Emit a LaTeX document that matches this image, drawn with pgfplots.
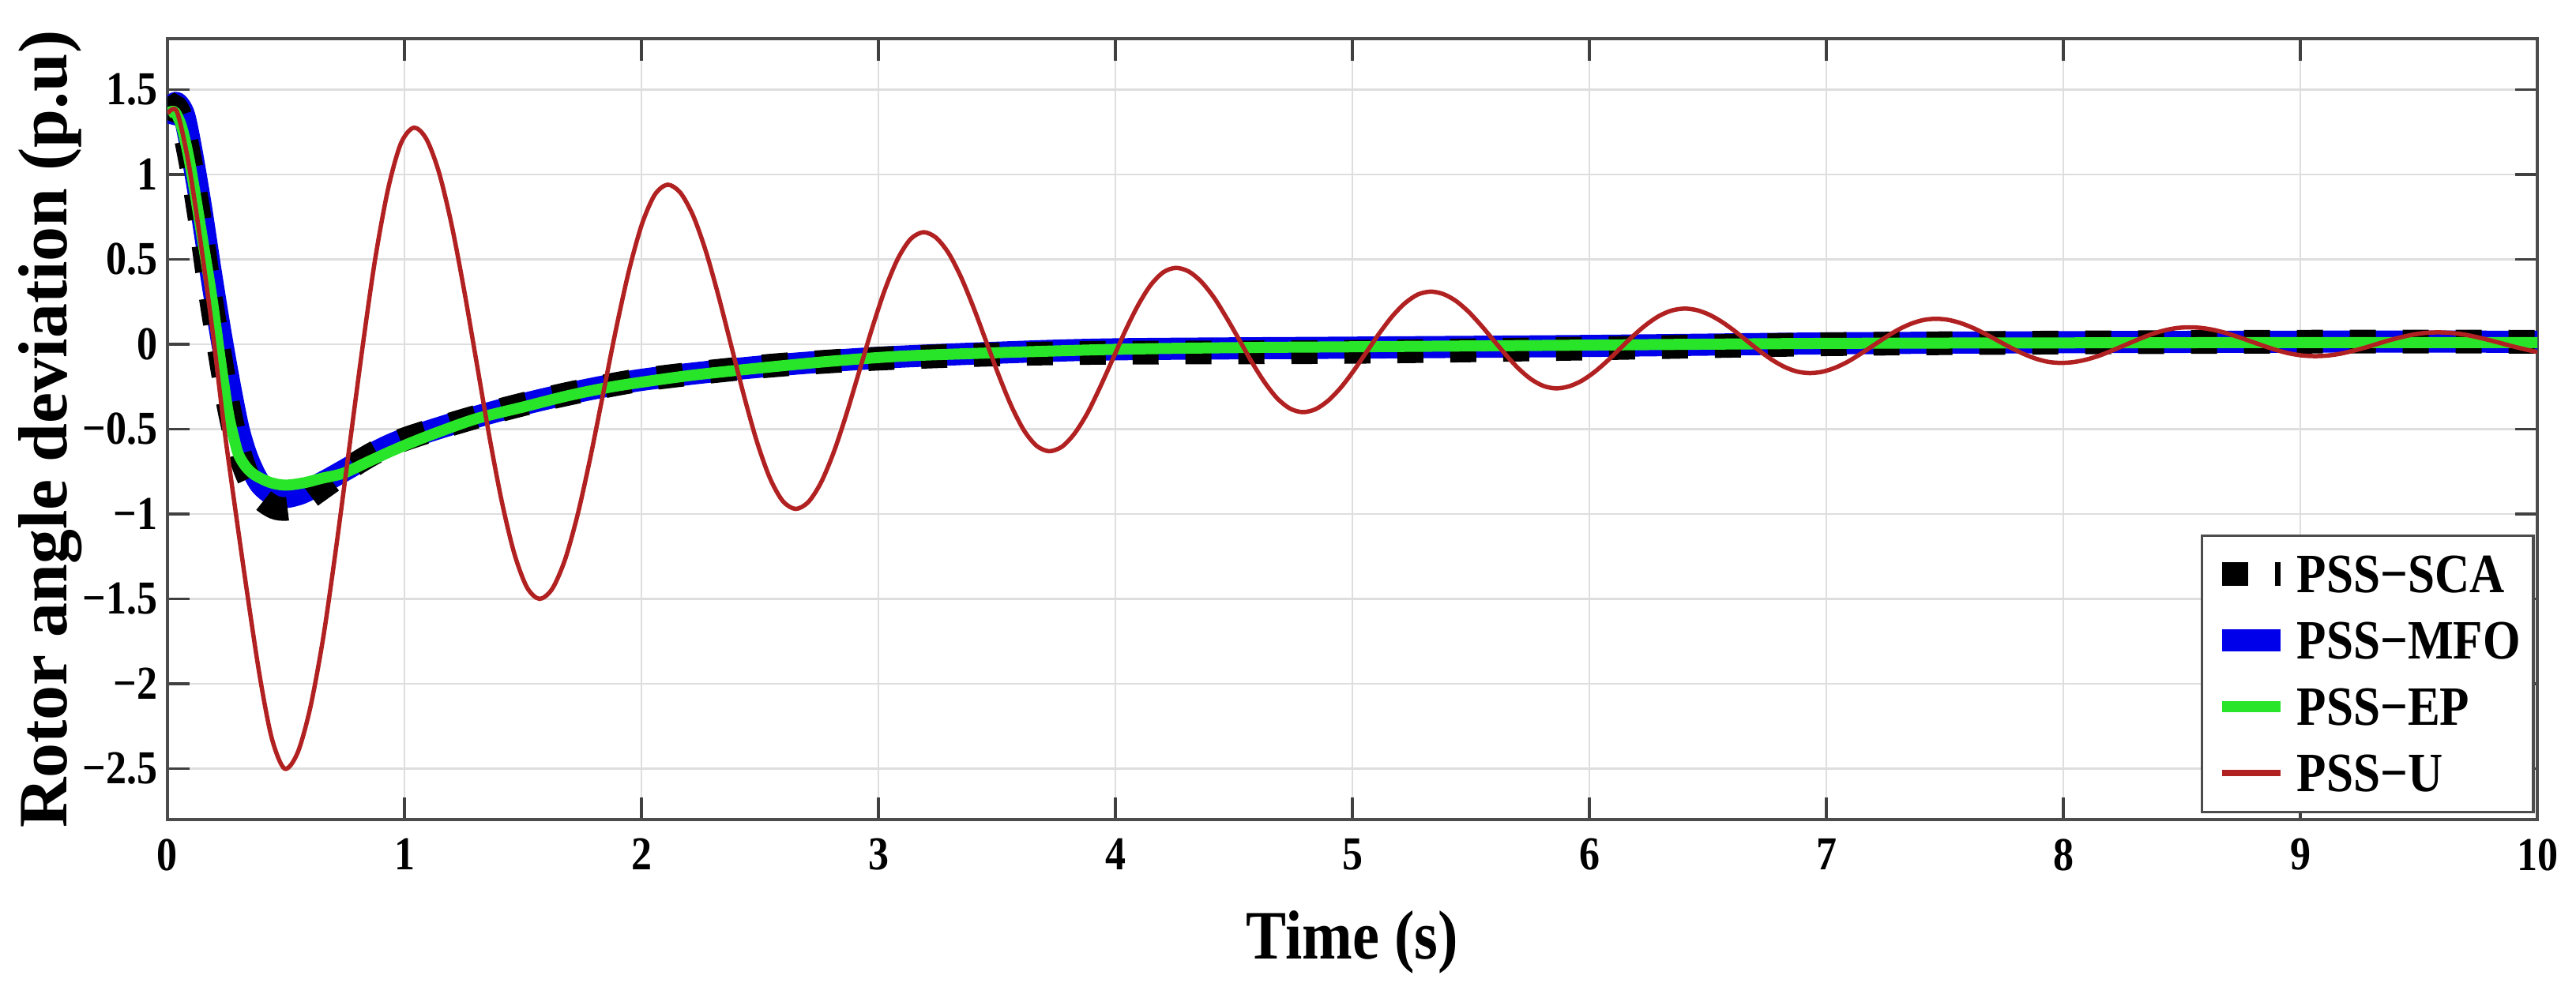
\documentclass[border=0pt]{standalone}
\usepackage{fontspec}
\setmainfont{Liberation Serif}[FakeStretch=0.87]
\newfontfamily\ylabfont{Liberation Serif}
\usepackage{pgfplots}
\pgfplotsset{compat=1.18}
\definecolor{pssblue}{rgb}{0,0,0.92}
\definecolor{pssgreen}{rgb}{0.16,0.9,0.16}
\definecolor{pssred}{rgb}{0.7,0.13,0.13}
\begin{document}
\begin{tikzpicture}
\path (-2.12,-2.04) rectangle (30.49,10.38);
\begin{axis}[
  scale only axis, width=30cm, height=9.89cm,
  at={(0,0)}, anchor=south west,
  xmin=0, xmax=10, ymin=-2.8, ymax=1.8,
  xtick={0,1,2,3,4,5,6,7,8,9,10},
  xticklabels={0,1,2,3,4,5,6,7,8,9,10},
  ytick={-2.5,-2,-1.5,-1,-0.5,0,0.5,1,1.5},
  yticklabels={−2.5,−2,−1.5,−1,−0.5,0,0.5,1,1.5},
  ticklabel style={font=\fontsize{17}{20}\selectfont\bfseries},
  xticklabel style={yshift=-0.12cm},
  grid=major, major grid style={black!13, line width=0.8pt},
  axis line style={black!70, line width=1.3pt},
  major tick length=0.28cm,
  tick style={black!75, line width=1pt},
  tick align=inside,
  xlabel={Time (s)},
  ylabel={Rotor angle deviation (p.u)},
  xlabel style={font=\fontsize{25}{30}\selectfont\bfseries, at={(axis description cs:0.5,-0.157)}, anchor=center},
  ylabel style={font=\ylabfont\fontsize{25}{30}\selectfont\bfseries, at={(axis description cs:-0.0493,0.5)}, anchor=center},
  legend style={at={(rel axis cs:0.999,0.008)}, anchor=south east, draw=black!70, line width=1pt, fill=white,
    font=\fontsize{20}{24}\selectfont\bfseries, row sep=0pt,
    nodes={text height=0.55cm, text depth=0.09cm, inner ysep=0.1cm, inner xsep=0.06cm}},
  legend cell align=left,
  legend image code/.code={\draw[#1] (0cm,0cm) -- (0.74cm,0cm);},
]
\addlegendimage{black, line width=0.3cm, dash pattern=on 0.33cm off 0.34cm}
\addlegendentry{PSS−SCA}
\addlegendimage{pssblue, line width=0.28cm}
\addlegendentry{PSS−MFO}
\addlegendimage{pssgreen, line width=0.14cm}
\addlegendentry{PSS−EP}
\addlegendimage{pssred, line width=0.08cm}
\addlegendentry{PSS−U}

% PSS-MFO
\addplot[forget plot, pssblue, line width=0.28cm, smooth, line join=round] coordinates {
(0,1.30) (0.02,1.40) (0.04,1.42) (0.07,1.35) (0.10,1.15) (0.14,0.82) (0.18,0.45) (0.22,0.10) (0.26,-0.22) (0.30,-0.50) (0.34,-0.68) (0.39,-0.82) (0.45,-0.89) (0.50,-0.90) (0.56,-0.88) (0.62,-0.84) (0.70,-0.78) (0.80,-0.70) (0.90,-0.62) (1.0,-0.56) (1.2,-0.47) (1.4,-0.39) (1.6,-0.32) (1.8,-0.26) (2.0,-0.21) (2.3,-0.16) (2.6,-0.12) (3.0,-0.08) (3.5,-0.05) (4.0,-0.03) (5,-0.02) (6,-0.01) (7,0.005) (8,0.012) (9,0.015) (10,0.015)
};
% PSS-SCA
\addplot[forget plot, black, line width=0.3cm, smooth, dash pattern=on 0.33cm off 0.34cm] coordinates {
(0,1.32) (0.03,1.40) (0.06,1.32) (0.10,1.05) (0.14,0.70) (0.18,0.30) (0.22,-0.05) (0.26,-0.38) (0.30,-0.62) (0.34,-0.78) (0.39,-0.90) (0.45,-0.96) (0.50,-0.97) (0.55,-0.95) (0.62,-0.88) (0.70,-0.80) (0.80,-0.70) (0.90,-0.62) (1.0,-0.56) (1.2,-0.47) (1.4,-0.39) (1.6,-0.32) (1.8,-0.26) (2.0,-0.21) (2.3,-0.16) (2.6,-0.12) (3.0,-0.085) (3.5,-0.06) (4.0,-0.05) (5.0,-0.045) (6.0,-0.025) (7.0,0) (8,0.01) (9,0.015) (10,0.015)
};
% PSS-EP
\addplot[forget plot, pssgreen, line width=0.14cm, smooth, line join=round] coordinates {
(0,1.36) (0.03,1.37) (0.06,1.28) (0.09,1.10) (0.12,0.86) (0.15,0.60) (0.178,0.36) (0.20,0.15) (0.223,-0.09) (0.256,-0.40) (0.28,-0.55) (0.30,-0.65) (0.33,-0.72) (0.368,-0.77) (0.435,-0.815) (0.50,-0.83) (0.58,-0.815) (0.65,-0.79) (0.742,-0.76) (0.85,-0.69) (0.96,-0.62) (1.1,-0.54) (1.3,-0.44) (1.5,-0.37) (1.7,-0.30) (1.9,-0.245) (2.2,-0.185) (2.5,-0.14) (2.8,-0.10) (3.1,-0.07) (3.5,-0.05) (4.0,-0.03) (4.5,-0.02) (5.0,-0.015) (6,-0.005) (7,0.005) (8,0.008) (9,0.01) (10,0.01)
};
% PSS-U
\addplot[forget plot, pssred, line width=0.055cm, smooth] coordinates {
(0,1.36) (0.04,1.37) (0.09,1.06) (0.14,0.60) (0.19,0.08) (0.24,-0.50) (0.29,-1.01) (0.34,-1.50) (0.39,-1.96) (0.44,-2.32) (0.494,-2.50)
(0.549,-2.407) (0.603,-2.139) (0.658,-1.722) (0.712,-1.195) (0.767,-0.612) (0.822,-0.029) (0.876,0.498) (0.931,0.915) (0.985,1.183) (1.04,1.276)
(1.093,1.208) (1.146,1.011) (1.199,0.704) (1.252,0.317) (1.305,-0.112) (1.358,-0.541) (1.411,-0.928) (1.464,-1.235) (1.517,-1.432) (1.57,-1.50)
(1.624,-1.440) (1.678,-1.267) (1.732,-0.997) (1.786,-0.657) (1.84,-0.280) (1.894,0.097) (1.948,0.437) (2.002,0.707) (2.056,0.880) (2.11,0.94)
(2.164,0.893) (2.218,0.758) (2.272,0.547) (2.326,0.280) (2.38,-0.015) (2.434,-0.310) (2.488,-0.577) (2.542,-0.788) (2.596,-0.923) (2.65,-0.97)
(2.704,-0.930) (2.758,-0.814) (2.812,-0.634) (2.866,-0.407) (2.92,-0.155) (2.974,0.097) (3.028,0.324) (3.082,0.504) (3.136,0.620) (3.19,0.66)
(3.243,0.628) (3.296,0.537) (3.349,0.394) (3.402,0.214) (3.455,0.015) (3.508,-0.184) (3.561,-0.364) (3.614,-0.507) (3.667,-0.598) (3.72,-0.63)
(3.774,-0.604) (3.827,-0.527) (3.881,-0.408) (3.934,-0.257) (3.988,-0.090) (4.041,0.077) (4.095,0.228) (4.148,0.347) (4.202,0.424) (4.255,0.45)
(4.309,0.429) (4.362,0.369) (4.416,0.275) (4.469,0.156) (4.523,0.025) (4.576,-0.106) (4.630,-0.225) (4.683,-0.319) (4.737,-0.379) (4.79,-0.40)
(4.844,-0.383) (4.898,-0.332) (4.952,-0.254) (5.006,-0.155) (5.06,-0.045) (5.114,0.065) (5.168,0.164) (5.222,0.242) (5.276,0.293) (5.33,0.31)
(5.383,0.296) (5.436,0.256) (5.489,0.193) (5.542,0.113) (5.595,0.025) (5.648,-0.063) (5.701,-0.143) (5.754,-0.206) (5.807,-0.246) (5.86,-0.26)
(5.914,-0.248) (5.968,-0.215) (6.022,-0.163) (6.076,-0.098) (6.13,-0.025) (6.184,0.048) (6.238,0.113) (6.292,0.165) (6.346,0.198) (6.40,0.21)
(6.453,0.201) (6.506,0.174) (6.559,0.132) (6.612,0.079) (6.665,0.020) (6.718,-0.039) (6.771,-0.092) (6.824,-0.134) (6.877,-0.161) (6.93,-0.17)
(6.983,-0.162) (7.036,-0.139) (7.089,-0.104) (7.142,-0.059) (7.195,-0.010) (7.248,0.039) (7.301,0.084) (7.354,0.119) (7.407,0.142) (7.46,0.15)
(7.513,0.144) (7.566,0.125) (7.619,0.096) (7.672,0.060) (7.725,0.020) (7.778,-0.020) (7.831,-0.056) (7.884,-0.085) (7.937,-0.104) (7.99,-0.11)
(8.044,-0.105) (8.098,-0.090) (8.152,-0.067) (8.206,-0.037) (8.26,-0.005) (8.314,0.027) (8.368,0.057) (8.422,0.080) (8.476,0.095) (8.53,0.10)
(8.583,0.096) (8.636,0.084) (8.689,0.065) (8.742,0.041) (8.795,0.015) (8.848,-0.011) (8.901,-0.035) (8.954,-0.054) (9.007,-0.066) (9.06,-0.07)
(9.112,-0.067) (9.164,-0.057) (9.216,-0.041) (9.268,-0.022) (9.32,0) (9.372,0.022) (9.424,0.041) (9.476,0.057) (9.528,0.067) (9.58,0.07)
(9.634,0.067) (9.688,0.058) (9.742,0.043) (9.796,0.025) (9.85,0.005) (9.904,-0.015) (9.958,-0.033) (10.0,-0.045)
};
\end{axis}
\end{tikzpicture}
\end{document}
